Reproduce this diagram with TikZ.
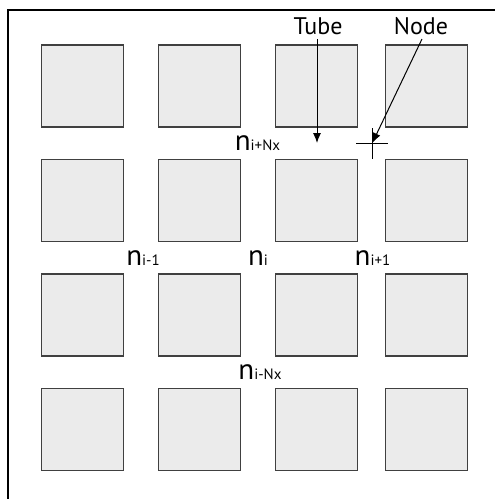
\documentclass[tikz,border=0pt]{standalone}
\usepackage{fontspec}
\setmainfont{PT Sans}
\usetikzlibrary{arrows.meta}
\definecolor{cellfill}{HTML}{EBEBEB}
\definecolor{celledge}{HTML}{404040}
\begin{document}
\begin{tikzpicture}[x=1pt,y=-1pt,
  cell/.style={draw=celledge, fill=cellfill, line width=1.3pt, minimum width=82pt, minimum height=82pt, inner sep=0pt},
  frame/.style={draw=black, line width=1.2pt},
  lbl/.style={inner sep=0pt, anchor=base},
  callout/.style={font=\fontsize{24}{24}\selectfont, inner sep=1pt, anchor=base},
  pointer/.style={line width=1pt, -{Latex[length=10pt,width=8pt]}},
  cross/.style={line width=1pt}]
\newcommand{\nlab}[1]{{\fontsize{29}{29}\selectfont n}{\fontsize{15}{15}\selectfont #1}}
\clip (0,0) rectangle (495,499);
\draw[frame] (8,10) rectangle (520,520);
% cells
\foreach \c/\x in {1/82.5,2/199.5,3/316.5,4/426.5}{
  \foreach \r/\y in {1/86,2/200.5,3/315,4/429.5}{
    \node[cell] (s\r\c) at (\x,\y) {};
  }
}
% labels
\node[lbl] (nup) at (257.5,150) {\nlab{i+Nx}};
\node[lbl] (nleft) at (143,265) {\nlab{i-1}};
\node[lbl] (ni) at (258,265) {\nlab{i}};
\node[lbl] (nright) at (372.5,265) {\nlab{i+1}};
\node[lbl] (ndown) at (260,379) {\nlab{i-Nx}};
% callouts
\node[callout] (tube) at (318,34) {Tube};
\node[callout] (nodet) at (421,34) {Node};
\coordinate (tubetip) at (317,143);
\coordinate (nodetip) at (372.3,143);
\coordinate (tubestart) at (317,39);
\coordinate (nodestart) at (422,39);
\draw[pointer] (tubestart) -- (tubetip);
\draw[pointer] (nodestart) -- (nodetip);
% node cross
\coordinate (cxl) at (356,143.5);
\coordinate (cxr) at (388,143.5);
\coordinate (cyt) at (372.3,128);
\coordinate (cyb) at (372.3,159);
\draw[cross] (cxl) -- (cxr);
\draw[cross] (cyt) -- (cyb);
\end{tikzpicture}
\end{document}
